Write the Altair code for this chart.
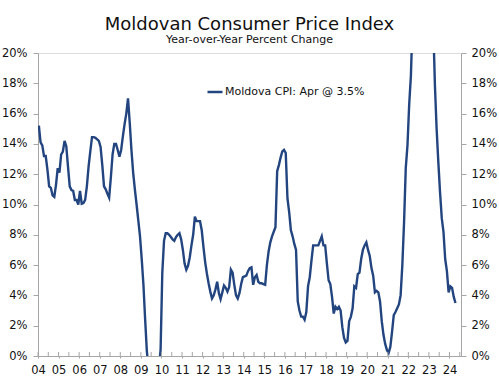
import altair as alt
import pandas as pd

# Monthly year-over-year CPI change (%), Jan 2004 .. Apr 2024
years = list(range(2004, 2025))
cpi_2004 = [15.2, 14.1, 13.9, 13.2, 13.2, 12.3, 11.2, 11.1, 10.6, 10.5, 11.3, 12.4]
cpi_2005 = [12.1, 13.3, 13.5, 14.2, 13.85, 12.5, 11.2, 10.95, 10.9, 10.3, 10.3, 10.0]
cpi_2006 = [10.9, 10.05, 10.1, 10.3, 11.2, 12.5, 13.5, 14.45, 14.45, 14.4, 14.3, 14.2]
cpi_2007 = [13.8, 12.6, 11.2, 11.0, 10.7, 10.45, 11.8, 13.3, 14.0, 14.0, 13.6, 13.15]
cpi_2008 = [13.6, 14.5, 15.3, 16.0, 17.0, 15.4, 13.6, 12.1, 11.0, 10.0, 8.95, 7.9]
cpi_2009 = [6.4, 4.7, 2.4, 0.3, -0.8, -1.6, -2.2, -2.6, -2.4, -2.0, -0.8, 0.4]
cpi_2010 = [5.5, 7.6, 8.1, 8.1, 8.0, 7.85, 7.7, 7.6, 7.85, 8.0, 8.1, 7.7]
cpi_2011 = [7.0, 6.1, 5.7, 5.95, 6.5, 7.3, 8.0, 9.2, 8.9, 8.9, 8.9, 8.3]
cpi_2012 = [7.2, 6.2, 5.45, 4.8, 4.25, 3.8, 4.0, 4.4, 4.9, 4.15, 3.75, 4.2]
cpi_2013 = [4.65, 4.5, 4.25, 4.55, 5.7, 5.5, 4.7, 4.0, 3.8, 4.15, 4.75, 5.2]
cpi_2014 = [5.25, 5.3, 5.6, 5.8, 5.85, 4.7, 5.2, 5.35, 4.9, 4.8, 4.8, 4.75]
cpi_2015 = [4.7, 6.0, 6.9, 7.5, 7.9, 8.2, 8.5, 12.2, 12.6, 13.1, 13.5, 13.6]
cpi_2016 = [13.4, 10.4, 9.5, 8.3, 7.9, 7.4, 7.0, 3.6, 3.0, 2.6, 2.6, 2.4]
cpi_2017 = [2.9, 4.6, 5.2, 6.3, 7.3, 7.3, 7.3, 7.3, 7.6, 7.9, 7.3, 7.3]
cpi_2018 = [6.1, 5.0, 4.75, 3.9, 2.8, 3.25, 3.1, 3.25, 3.0, 1.9, 1.2, 0.9]
cpi_2019 = [1.0, 2.3, 2.6, 3.15, 4.6, 4.5, 5.4, 5.5, 6.4, 7.0, 7.3, 7.5]
cpi_2020 = [7.0, 6.6, 5.8, 5.3, 4.2, 4.3, 4.2, 3.6, 2.3, 1.4, 0.8, 0.4]
cpi_2021 = [0.2, 0.6, 1.6, 2.7, 2.9, 3.15, 3.4, 4.0, 6.0, 8.8, 12.4, 13.9]
cpi_2022 = [16.6, 18.5, 22.2, 27.1, 29.2, 31.8, 33.6, 33.9, 33.6, 34.6, 34.3, 30.2]
cpi_2023 = [27.3, 25.9, 22.0, 17.9, 15.0, 12.8, 10.8, 9.1, 8.2, 6.4, 5.6, 4.2]
cpi_2024 = [4.6, 4.5, 3.9, 3.5]

all_years = [cpi_2004, cpi_2005, cpi_2006, cpi_2007, cpi_2008, cpi_2009, cpi_2010,
             cpi_2011, cpi_2012, cpi_2013, cpi_2014, cpi_2015, cpi_2016, cpi_2017,
             cpi_2018, cpi_2019, cpi_2020, cpi_2021, cpi_2022, cpi_2023, cpi_2024]

series_name = "Moldova CPI: Apr @ 3.5%"
year_ticks = list(range(2004, 2025))
half_year_ticks = [2004 + 0.5 * i for i in range(42)]
y_ticks = list(range(0, 21, 2))

rows = []
for yr, vals in zip(years, all_years):
    for i, v in enumerate(vals):
        rows.append({"t": yr + (i + 0.5) / 12.0, "cpi": v, "series": series_name})
df = pd.DataFrame(rows)
ticks_df = pd.DataFrame({"t": half_year_ticks})

W, H = 423, 303
FONT = "DejaVu Sans"
AXIS = "#a6a6a6"
BLUE = "#23457f"

xscale = alt.Scale(domain=[2004, 2024.56], nice=False, zero=False)
yscale = alt.Scale(domain=[0, 20], nice=False)

x_axis = alt.Axis(orient="bottom", values=year_ticks, format="d",
                  labelExpr="slice(datum.label, 2)", labelOverlap=False,
                  labelFlush=False,
                  title=None, grid=False, tickSize=2, labelPadding=6,
                  domainColor=AXIS, tickColor=AXIS, labelFont=FONT, labelFontSize=11.5,
                  labelColor="#111", zindex=1)

def y_axis(orient, pad):
    return alt.Axis(orient=orient, values=y_ticks, labelExpr="datum.value + '%'",
                    title=None, grid=False, tickSize=5, labelPadding=pad,
                    domainColor=AXIS, tickColor=AXIS, labelFont=FONT, labelFontSize=11.5,
                    labelColor="#111")

line = alt.Chart(df).mark_line(clip=True, strokeWidth=2.4).encode(
    x=alt.X("t:Q", scale=xscale, axis=x_axis),
    y=alt.Y("cpi:Q", scale=yscale, axis=y_axis("left", 6)),
    color=alt.Color("series:N", scale=alt.Scale(range=[BLUE]),
                    legend=alt.Legend(title=None, orient="none", legendX=168, legendY=30,
                                      symbolType="stroke", symbolSize=225,
                                      symbolStrokeWidth=2.5, labelFont=FONT,
                                      labelFontSize=11, labelColor="#111",
                                      labelOffset=1, padding=0)),
)

right = alt.Chart(df).mark_line(opacity=0, clip=True).encode(
    x=alt.X("t:Q", scale=xscale, axis=x_axis),
    y=alt.Y("cpi:Q", scale=yscale, axis=y_axis("right", 5)),
)

minor = alt.Chart(ticks_df).mark_rule(color=AXIS, strokeWidth=1).encode(
    x=alt.X("t:Q", scale=xscale, axis=x_axis),
    y=alt.value(H),
    y2=alt.value(H - 4),
)

chart = alt.layer(line, right, minor).resolve_scale(y="independent").properties(
    width=W, height=H,
    autosize=alt.AutoSizeParams(type="none"),
    padding={"left": 38, "top": 53, "right": 38, "bottom": 26},
    title=alt.TitleParams(text="Moldovan Consumer Price Index",
                          subtitle="Year-over-Year Percent Change",
                          font=FONT, fontSize=18, fontWeight="normal", color="#111",
                          subtitleFont=FONT, subtitleFontSize=11, subtitleColor="#111",
                          anchor="middle", offset=2, subtitlePadding=0),
).configure_view(stroke=AXIS, strokeWidth=1).configure(background="white")

chart.save("out.html", embed_options={"renderer": "svg", "actions": False})
